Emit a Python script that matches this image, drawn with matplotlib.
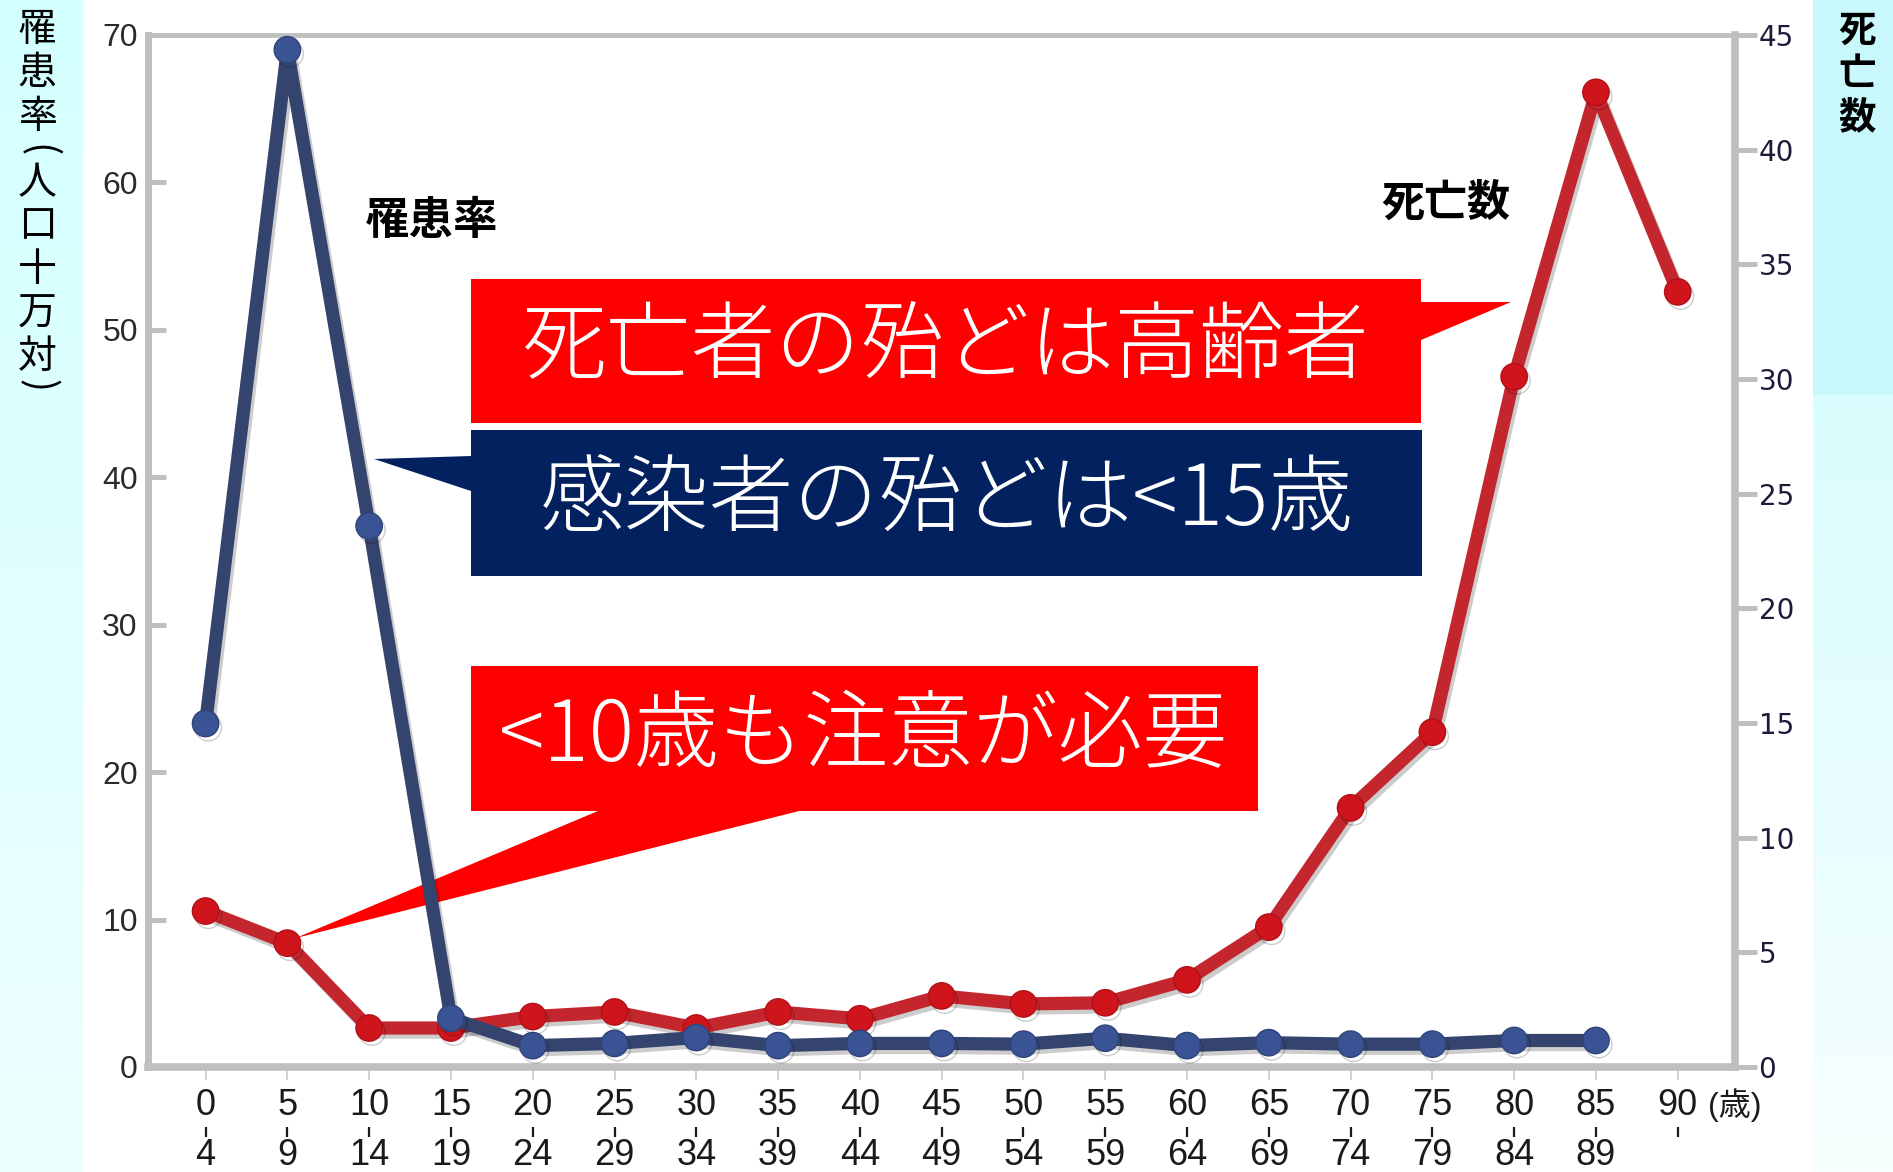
import numpy as np
import matplotlib
matplotlib.use("Agg")
import matplotlib.pyplot as plt
from matplotlib import font_manager as fm
from matplotlib import patheffects as pe
from matplotlib.patches import Polygon
import matplotlib.transforms as mtransforms

# ---- data -------------------------------------------------------------
age_start = ["0", "5", "10", "15", "20", "25", "30", "35", "40", "45",
             "50", "55", "60", "65", "70", "75", "80", "85", "90"]
age_end = ["4", "9", "14", "19", "24", "29", "34", "39", "44", "49",
           "54", "59", "64", "69", "74", "79", "84", "89", ""]
# incidence per 100,000 population (left axis)
incidence = [23.3, 69.0, 36.7, 3.3, 1.45, 1.6, 2.0, 1.45, 1.6, 1.6,
             1.55, 1.95, 1.45, 1.65, 1.55, 1.55, 1.8, 1.8, np.nan]
# number of deaths (right axis)
deaths = [6.8, 5.4, 1.7, 1.7, 2.2, 2.4, 1.7, 2.4, 2.1, 3.1,
          2.75, 2.8, 3.8, 6.1, 11.3, 14.6, 30.1, 42.5, 33.8]
left_ticks = [0, 10, 20, 30, 40, 50, 60, 70]
right_ticks = [0, 5, 10, 15, 20, 25, 30, 35, 40, 45]

W, H = 1893, 1172


def has_font(name):
    try:
        fm.findfont(fm.FontProperties(family=name), fallback_to_default=False)
        return True
    except Exception:
        return False


CJK = "Noto Sans CJK JP"
if has_font("Liberation Sans Narrow"):
    NARROW, NARROW_SIZE = "Liberation Sans Narrow", 28
else:
    NARROW, NARROW_SIZE = "Liberation Sans", 26
plt.rcParams["font.family"] = [CJK, "DejaVu Sans"]


def fx(x):
    return x / W


def fy(y):
    return 1 - y / H


fig = plt.figure(figsize=(W / 100, H / 100), dpi=100)

# ---- background bands ---------------------------------------------------
bg = fig.add_axes([0, 0, 1, 1])
bg.set_axis_off()
bg.set_zorder(-10)
img = np.ones((H, W, 3))
t = np.linspace(0, 1, H)[:, None]
left_col = np.array([0.83, 1.0, 1.0]) * (1 - t) + np.array([0.93, 1.0, 1.0]) * t
img[:, :83, :] = left_col[:, None, :]
img[:395, 1813:, :] = np.array([0.79, 0.975, 0.99])
t2 = np.linspace(0, 1, H - 395)[:, None]
right_col = np.array([0.85, 0.99, 0.995]) * (1 - t2) + np.array([0.97, 1.0, 1.0]) * t2
img[395:, 1813:, :] = right_col[:, None, :]
bg.imshow(img, extent=[0, 1, 0, 1], aspect="auto", interpolation="bilinear")

# ---- axes -----------------------------------------------------------------
x0, x1, y0, y1 = 147.5, 1735, 35, 1067
rect = [fx(x0), fy(y1), fx(x1) - fx(x0), fy(y0) - fy(y1)]
ax = fig.add_axes(rect)
ax2 = ax.twinx()
ax.set_zorder(2)
ax2.set_zorder(1)
ax.patch.set_visible(False)
ax2.patch.set_facecolor("#f2f2f2")

x = np.arange(len(age_start))
ax.set_xlim(-0.71, 18.70)
ax.set_ylim(0, 70)
ax2.set_ylim(0, 45)

frame = "#bfbfbf"
shadow = [pe.SimplePatchShadow(offset=(2, -2), alpha=0.25), pe.Normal()]
for name, sp in ax.spines.items():
    sp.set_color(frame)
    sp.set_linewidth({"left": 5.0, "top": 3.5, "bottom": 5.5, "right": 0}[name])
    if name == "right":
        sp.set_visible(False)
    if name == "bottom":
        sp.set_path_effects(shadow)
for name, sp in ax2.spines.items():
    if name == "right":
        sp.set_color(frame)
        sp.set_linewidth(5.5)
        sp.set_path_effects(shadow)
    else:
        sp.set_visible(False)

ax.set_yticks(left_ticks)
ax.set_yticklabels([str(v) for v in left_ticks], family=["Liberation Sans", "DejaVu Sans"])
ax.tick_params(axis="y", direction="in", length=13, width=3.6, color=frame,
               labelsize=23, labelcolor="#2a2a2a", pad=7)
ax2.set_yticks(right_ticks)
ax2.set_yticklabels([str(v) for v in right_ticks], family=["DejaVu Sans"])
ax2.tick_params(axis="y", direction="out", length=16, width=3.6, color=frame,
                labelsize=20, labelcolor="#1c1c3a", pad=1)
ax.set_xticks(x)
ax.tick_params(axis="x", direction="out", length=9, width=1.2, color="#c8c8c8",
               labelbottom=False)
ax2.tick_params(axis="x", bottom=False, labelbottom=False)

# two-row age-group labels below the axis
blend = mtransforms.blended_transform_factory(ax.transData, fig.transFigure)
for i, (a, b) in enumerate(zip(age_start, age_end)):
    ax.text(i, fy(1115), a, transform=blend, ha="center", va="baseline",
            fontsize=NARROW_SIZE, family=[NARROW], color="#1a1a1a", clip_on=False)
    if b:
        ax.text(i, fy(1165), b, transform=blend, ha="center", va="baseline",
                fontsize=NARROW_SIZE, family=[NARROW], color="#1a1a1a", clip_on=False)
ax.plot(x, [fy(1132)] * len(x), transform=blend, ls="none", marker="|",
        markersize=7, markeredgewidth=1.6, color="#1a1a1a", clip_on=False)
ax.text(18.37, fy(1115), "(歳)", transform=blend, ha="left", va="baseline",
        fontsize=23, family=[NARROW, CJK], color="#1a1a1a", clip_on=False)

# ---- series ----------------------------------------------------------------
line_shadow = [pe.SimpleLineShadow(offset=(2, -3), alpha=0.2), pe.Normal()]
ax2.plot(x, deaths, color="#c4262e", lw=9.5, marker="o", markersize=19,
         markerfacecolor="#d0141c", markeredgecolor="#b01018", markeredgewidth=1,
         path_effects=line_shadow, zorder=3, clip_on=False)
ax.plot(x, incidence, color="#34446e", lw=9.5, marker="o", markersize=19,
        markerfacecolor="#3a5394", markeredgecolor="#2e4478", markeredgewidth=1,
        path_effects=line_shadow, zorder=3, clip_on=False)

# ---- series names ------------------------------------------------------------
fig.text(fx(432), fy(221), "罹患率", fontsize=32, fontweight="bold",
         ha="center", va="center", color="black")
fig.text(fx(1446), fy(203), "死亡数", fontsize=31, fontweight="bold",
         ha="center", va="center", color="black")

# ---- vertical axis titles -------------------------------------------------------
fig.text(fx(37), fy(10), "罹\n患\n率", fontsize=28, ha="center", va="top",
         linespacing=1.11, color="black")
fig.text(fx(37), fy(151), "(", fontsize=28, ha="center", va="center",
         rotation=-90, color="black")
fig.text(fx(37), fy(163), "人\n口\n十\n万\n対", fontsize=28, ha="center", va="top",
         linespacing=1.11, color="black")
fig.text(fx(37), fy(386), ")", fontsize=28, ha="center", va="center",
         rotation=-90, color="black")
fig.text(fx(1857), fy(11), "死\n亡\n数", fontsize=27, fontweight="bold",
         ha="center", va="top", linespacing=1.14, color="black")

# ---- callout boxes ------------------------------------------------------------------
def px_poly(points):
    return [(fx(a), fy(b)) for a, b in points]


red = "#ff0000"
navy = "#03215e"

box1 = px_poly([(471, 279), (1421, 279), (1421, 302), (1511, 302), (1421, 340),
                (1421, 423), (471, 423)])
ax.add_patch(Polygon(box1, closed=True, facecolor=red, edgecolor="none",
                     transform=fig.transFigure, clip_on=False, zorder=2.5))

box2 = px_poly([(471, 430), (1422, 430), (1422, 576), (471, 576), (471, 491),
                (374, 459), (471, 456)])
ax.add_patch(Polygon(box2, closed=True, facecolor=navy, edgecolor="none",
                     transform=fig.transFigure, clip_on=False, zorder=2.5))

tip = ax2.transData.transform((1, deaths[1]))
tip = fig.transFigure.inverted().transform(tip + np.array([8.0, 5.0]))
box3 = px_poly([(471, 666), (1258, 666), (1258, 811), (799, 811)])
box3 += [tuple(tip)]
box3 += px_poly([(598, 811), (471, 811)])
ax.add_patch(Polygon(box3, closed=True, facecolor=red, edgecolor="none",
                     transform=fig.transFigure, clip_on=False, zorder=2.5))

fig.text(fx(946), fy(348), "死亡者の殆どは高齢者", fontsize=61, color="white",
         ha="center", va="center", fontweight="light")
fig.text(fx(947), fy(501), "感染者の殆どは<15歳", fontsize=61, color="white",
         ha="center", va="center", fontweight="light")
fig.text(fx(864), fy(738), "<10歳も注意が必要", fontsize=61, color="white",
         ha="center", va="center", fontweight="light")

fig.savefig("out.png", dpi=100, facecolor="white")
